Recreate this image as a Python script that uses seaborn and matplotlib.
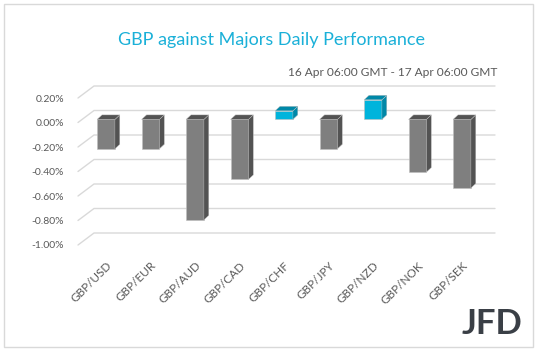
import numpy as np
import pandas as pd
import matplotlib
matplotlib.use("Agg")
import matplotlib.pyplot as plt
import seaborn as sns
from matplotlib.patches import Polygon, Rectangle

pairs = ["GBP/USD", "GBP/EUR", "GBP/AUD", "GBP/CAD", "GBP/CHF",
         "GBP/JPY", "GBP/NZD", "GBP/NOK", "GBP/SEK"]
change_pct = [-0.24, -0.24, -0.82, -0.49, 0.07, -0.24, 0.16, -0.43, -0.56]
yticks = [0.2, 0.0, -0.2, -0.4, -0.6, -0.8, -1.0]

GREY = "#7f7f7f"
GREY_DARK = "#535353"
CYAN = "#00b4dc"
CYAN_DARK = "#0088a8"
TEXT = "#595959"
GRID = "#d9d9d9"

sns.set_theme(style="white")
plt.rcParams["font.family"] = ["Lato", "DejaVu Sans"]

W, H = 538, 351
fig = plt.figure(figsize=(W / 100, H / 100), dpi=100)

# axes placed in pixel terms: bar i centred at 106 + 44.5*i px
step = 44.5
x_left_px, x_right_px = 78, 495
xl = (x_left_px - 106) / step
xr = (x_right_px - 106) / step
ylo, yhi = -1.02, 0.31
px_per_pct = 122.5
top_px = 98 - (yhi - 0.2) * px_per_pct
bot_px = 245 + (-1.0 - ylo) * px_per_pct
ax = fig.add_axes([x_left_px / W, 1 - bot_px / H,
                   (x_right_px - x_left_px) / W, (bot_px - top_px) / H])

df = pd.DataFrame({"pair": pairs, "change": change_pct})
colors = [CYAN if v > 0 else GREY for v in change_pct]
sns.barplot(data=df, x="pair", y="change", hue="pair", palette=colors,
            legend=False, width=0.40, saturation=1, ax=ax, zorder=3,
            edgecolor="#bfbfbf", linewidth=0.4)

# perspective: back wall offset and bar depth
wall_dx, wall_dy = 0.36, 0.098
bar_dx, bar_dy = 0.11, 0.037
lift = 0.025

for g in yticks:
    ax.plot([xl, xl + wall_dx, xr], [g, g + wall_dy, g + wall_dy],
            color=GRID, lw=1.0, zorder=1, clip_on=False)

for p, v in zip(ax.patches, change_pct):
    p.set_y(p.get_y() + lift)
    x0 = p.get_x()
    w = p.get_width()
    y0 = p.get_y()
    y1 = y0 + p.get_height()
    top = max(y0, y1)
    bot = min(y0, y1)
    dark = CYAN_DARK if v > 0 else GREY_DARK
    side = Polygon([[x0 + w, bot], [x0 + w + bar_dx, bot + bar_dy],
                    [x0 + w + bar_dx, top + bar_dy], [x0 + w, top]],
                   closed=True, facecolor=dark, edgecolor="#bfbfbf", lw=0.3, zorder=3)
    cap = Polygon([[x0, top], [x0 + bar_dx, top + bar_dy],
                   [x0 + w + bar_dx, top + bar_dy], [x0 + w, top]],
                  closed=True, facecolor=dark, edgecolor="#bfbfbf", lw=0.3, zorder=3)
    ax.add_patch(side)
    ax.add_patch(cap)

ax.set_xlim(xl, xr)
ax.set_ylim(ylo, yhi)
ax.set_yticks(yticks)
ax.set_yticklabels([f"{t:.2f}%" for t in yticks])
ax.tick_params(axis="y", length=0, pad=10, labelsize=7.5, labelcolor=TEXT)
ax.tick_params(axis="x", length=0, pad=9, labelsize=8.5, labelcolor=TEXT)
for lab in ax.get_xticklabels():
    lab.set_rotation(45)
    lab.set_ha("right")
    lab.set_rotation_mode("anchor")
ax.set_xlabel("")
ax.set_ylabel("")
for s in ax.spines.values():
    s.set_visible(False)
ax.patch.set_alpha(0)

fig.text(271 / W, 1 - 40 / H, "GBP against Majors Daily Performance",
         ha="center", va="center", color="#1ab0d8", fontsize=13)
fig.text(497 / W, 1 - 73 / H, "16 Apr 06:00 GMT - 17 Apr 06:00 GMT",
         ha="right", va="center", color=TEXT, fontsize=8.6)
fig.text(522 / W, 1 - 324 / H, "JFD", ha="right", va="center",
         color="#3a3f46", fontsize=25, fontweight="bold")

fig.patches.append(Rectangle((4 / W, 4 / H), (533 - 4) / W, (347 - 4) / H,
                             transform=fig.transFigure, fill=False,
                             edgecolor="#d9d9d9", lw=1.0))

fig.savefig("out.png", dpi=100)
